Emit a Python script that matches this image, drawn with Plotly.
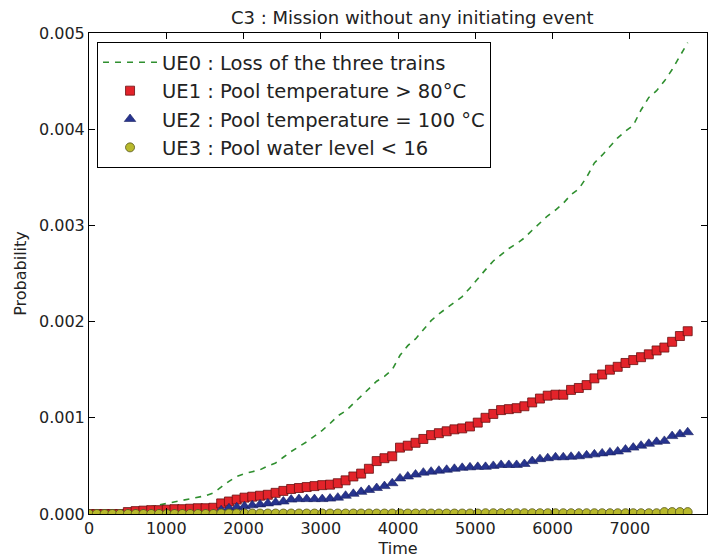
import plotly.graph_objects as go

# Sample times (78 samples from 0 to 7750)
TIME = [round(i * 7750 / 77, 1) for i in range(78)]

# Values in units of 1e-4
UE0 = [0, 0, 0, 0, 0, 0.2, 0.4, 0.6, 0.8, 0.95, 1.1, 1.25, 1.4, 1.55, 1.7, 1.9, 2.2,
       2.8, 3.4, 3.9, 4.2, 4.4, 4.6, 5.0, 5.3, 5.9, 6.5, 7.0, 7.5, 8.1, 8.7, 9.4, 10.2,
       10.7, 11.5, 12.2, 13.0, 13.8, 14.3, 15.0, 16.5, 17.5, 18.2, 19.2, 20.1, 20.8,
       21.4, 22.0, 22.6, 23.5, 24.5, 25.4, 26.3, 27.0, 27.6, 28.1, 28.7, 29.5, 30.3,
       31.0, 31.6, 32.3, 33.2, 33.8, 35.0, 36.5, 37.3, 38.2, 39.1, 39.8, 40.4, 42.0,
       43.3, 44.0, 45.0, 46.2, 47.6, 49.0]
UE1 = [0, 0, 0, 0, 0, 0.2, 0.3, 0.35, 0.4, 0.4, 0.45, 0.5, 0.5, 0.55, 0.6, 0.6, 0.65,
       1.1, 1.3, 1.5, 1.7, 1.8, 1.9, 2.0, 2.2, 2.4, 2.6, 2.7, 2.8, 2.9, 3.0, 3.05, 3.2,
       3.5, 3.9, 4.2, 4.7, 5.5, 5.8, 6.0, 6.9, 7.1, 7.4, 7.8, 8.2, 8.4, 8.6, 8.8, 8.9,
       9.1, 9.5, 10.0, 10.4, 10.8, 10.9, 11.0, 11.2, 11.6, 12.0, 12.3, 12.4, 12.4, 12.9,
       13.1, 13.4, 14.1, 14.5, 15.0, 15.3, 15.7, 16.0, 16.3, 16.6, 17.0, 17.3, 17.9,
       18.5, 19.0]
UE2 = [0, 0, 0, 0, 0, 0, 0, 0, 0, 0, 0, 0, 0, 0, 0, 0, 0,
       0.4, 0.6, 0.7, 0.8, 0.9, 1.0, 1.1, 1.2, 1.3, 1.5, 1.55, 1.55, 1.55, 1.55, 1.6,
       1.7, 1.9, 2.1, 2.3, 2.5, 2.7, 2.9, 3.2, 3.7, 3.9, 4.1, 4.3, 4.4, 4.5, 4.6, 4.7,
       4.8, 4.85, 4.9, 4.9, 5.0, 5.1, 5.1, 5.1, 5.2, 5.5, 5.7, 5.8, 5.9, 5.9, 5.95, 6.0,
       6.1, 6.2, 6.3, 6.4, 6.5, 6.7, 6.9, 7.1, 7.3, 7.5, 7.6, 8.1, 8.3, 8.5]
UE3 = [0, 0, 0, 0, 0, 0, 0, 0, 0, 0, 0, 0, 0, 0, 0, 0, 0,
       0.05, 0.05, 0.05, 0.05, 0.05, 0.05, 0.05, 0.05, 0.05, 0.05, 0.05, 0.05, 0.05,
       0.05, 0.05, 0.05, 0.05, 0.05, 0.05, 0.05, 0.05, 0.05, 0.05, 0.05, 0.05, 0.05,
       0.05, 0.05, 0.05, 0.05, 0.05, 0.05, 0.05, 0.05, 0.08, 0.08, 0.08, 0.08, 0.08,
       0.08, 0.08, 0.08, 0.08, 0.08, 0.08, 0.08, 0.08, 0.08, 0.08, 0.08, 0.08, 0.08,
       0.08, 0.08, 0.08, 0.08, 0.08, 0.2, 0.2, 0.2, 0.2]

NAMES = ["UE0 : Loss of the three trains",
         "UE1 : Pool temperature > 80°C",
         "UE2 : Pool temperature = 100 °C",
         "UE3 : Pool water level < 16"]

X_TICKS = [0, 1000, 2000, 3000, 4000, 5000, 6000, 7000, 8000]
Y_TICKS = [0.0, 0.001, 0.002, 0.003, 0.004, 0.005]
Y_TICK_TEXT = ["0.000", "0.001", "0.002", "0.003", "0.004", "0.005"]

def scale(v):
    return [x * 1e-4 for x in v]

FONT = "DejaVu Sans"
TXT = "#222"
fig = go.Figure()
fig.add_trace(go.Scatter(x=TIME, y=scale(UE0), mode="lines", name=NAMES[0],
                         line=dict(color="#2f8f2f", width=1.6, dash="6px,6px")))
fig.add_trace(go.Scatter(x=TIME, y=scale(UE1), mode="markers", name=NAMES[1],
                         marker=dict(symbol="square", size=9, color="#e3232a",
                                     line=dict(color="#6a1010", width=0.8))))
fig.add_trace(go.Scatter(x=TIME, y=scale(UE2), mode="markers", name=NAMES[2],
                         marker=dict(symbol="triangle-up", size=10, color="#27348f",
                                     line=dict(color="#1a2060", width=0.6))))
fig.add_trace(go.Scatter(x=TIME, y=scale(UE3), mode="markers", name=NAMES[3],
                         marker=dict(symbol="circle", size=9, color="#b8b92c",
                                     line=dict(color="#55551a", width=0.8))))

axis_common = dict(showgrid=False, zeroline=False, showline=True, linecolor="black",
                   linewidth=1, mirror="ticks", ticks="inside", ticklen=6,
                   tickcolor="black", automargin=False,
                   tickfont=dict(family=FONT, size=16, color=TXT))

fig.update_layout(
    width=726, height=559,
    margin=dict(l=89, r=19, t=33, b=45),
    paper_bgcolor="white", plot_bgcolor="white",
    title=dict(text="C3 : Mission without any initiating event", x=0.523, xref="paper",
               xanchor="center", y=0.968, yanchor="middle",
               font=dict(family=FONT, size=18, color=TXT)),
    xaxis=dict(range=[0, 8000], tickvals=X_TICKS,
               title=dict(text="Time", font=dict(family=FONT, size=16, color=TXT),
                          standoff=5),
               **axis_common),
    yaxis=dict(range=[0, 0.005], tickvals=Y_TICKS, ticktext=Y_TICK_TEXT,
               title=dict(text="Probability", font=dict(family=FONT, size=16, color=TXT),
                          standoff=8),
               **axis_common),
    legend=dict(x=0.013, y=0.981, xanchor="left", yanchor="top",
                bgcolor="white", bordercolor="black", borderwidth=1,
                font=dict(family=FONT, size=19.5, color=TXT),
                itemwidth=54, tracegroupgap=0),
    showlegend=True,
)

fig.write_html("out.html")
